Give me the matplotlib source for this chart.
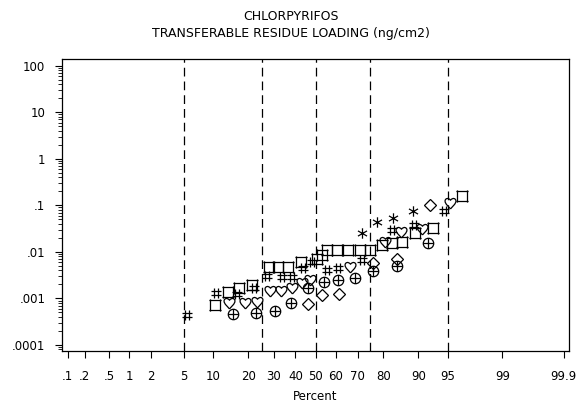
import numpy as np
import matplotlib
matplotlib.use("Agg")
from matplotlib import pyplot as plt
from matplotlib.path import Path
from statistics import NormalDist

# data: percent (plotting position) and residue (ng/cm2)
hash_pct = [5.4, 10.7, 16.3, 22.1, 27.2, 33.7, 38.4, 43.7, 48.2, 55.6, 61.0, 71.8, 82.9, 89.0, 94.5]
hash_val = [0.00044, 0.00131, 0.00125, 0.00168, 0.00303, 0.00289, 0.00289, 0.00451, 0.00607,
            0.00408, 0.00451, 0.0067, 0.0295, 0.0378, 0.0757]

sq_pct = [10.5, 13.7, 17.0, 21.4, 28.0, 31.9, 36.5, 42.7, 50.5, 53.0, 55.6, 60.5, 65.7, 70.9,
          75.1, 79.6, 82.9, 85.9, 89.2, 92.8, 96.6]
sq_val = [0.00072, 0.00138, 0.00168, 0.00195, 0.00474, 0.00474, 0.00474, 0.00607, 0.0072, 0.0085,
          0.011, 0.011, 0.011, 0.011, 0.011, 0.0141, 0.0155, 0.0163, 0.0255, 0.0326, 0.159]

heart_pct = [14.0, 18.9, 23.2, 28.4, 33.3, 38.4, 43.2, 47.2, 66.6, 80.6, 85.6, 90.7, 95.3]
heart_val = [0.0008, 0.0008, 0.00084, 0.00145, 0.00145, 0.00168, 0.00215, 0.00249, 0.00474,
             0.0163, 0.0268, 0.031, 0.112]

oplus_pct = [15.1, 22.8, 30.6, 37.9, 46.2, 54.1, 61.0, 68.8, 76.2, 84.5, 91.9]
oplus_val = [0.000464, 0.000486, 0.000537, 0.0008, 0.00168, 0.00226, 0.00249, 0.00275, 0.00389,
             0.00498, 0.0155]

diam_pct = [46.2, 53.1, 61.5, 76.2, 84.5, 92.3]
diam_val = [0.00076, 0.00119, 0.00125, 0.00578, 0.00703, 0.102]

star_pct = [71.8, 77.8, 83.3, 88.8]
star_val = [0.0255, 0.0439, 0.0535, 0.0757]

xtick_pct = [0.1, 0.2, 0.5, 1, 2, 5, 10, 20, 30, 40, 50, 60, 70, 80, 90, 95, 99, 99.9]
xtick_lab = ['.1', '.2', '.5', '1', '2', '5', '10', '20', '30', '40', '50', '60', '70', '80',
             '90', '95', '99', '99.9']
ref_pct = [5, 25, 50, 75, 95]
ytick_val = [0.0001, 0.001, 0.01, 0.1, 1, 10, 100]
ytick_lab = ['.0001', '.001', '.01', '.1', '1', '10', '100']

nd = NormalDist()
_ppf = np.vectorize(lambda v: nd.inv_cdf(v / 100.0), otypes=[float])
_cdf = np.vectorize(lambda v: nd.cdf(v) * 100.0, otypes=[float])


def fwd(p):
    p = np.clip(np.asarray(p, dtype=float), 1e-6, 100 - 1e-6)
    return _ppf(p)


def inv(z):
    return _cdf(np.asarray(z, dtype=float))


def lines_path(segs):
    verts, codes = [], []
    for a, b in segs:
        verts += [a, b]
        codes += [Path.MOVETO, Path.LINETO]
    return Path(verts, codes)


# SAS style symbols
sq_mark = lines_path([((-1.25, 1), (1.25, 1)), ((-1.25, -1), (1.25, -1)),
                      ((-1, 1.25), (-1, -1.25)), ((1, 1.25), (1, -1.25))])
hash_mark = lines_path([((-1, 0.4), (1, 0.4)), ((-1, -0.4), (1, -0.4)),
                        ((-0.4, 1), (-0.4, -1)), ((0.4, 1), (0.4, -1))])
star_mark = lines_path([((0, 1), (0, -1)), ((-0.87, 0.5), (0.87, -0.5)), ((-0.87, -0.5), (0.87, 0.5))])
C4 = Path.CURVE4
heart_mark = Path([(0, -1), (-0.3, -0.6), (-1, -0.1), (-1, 0.45),
                   (-1, 0.95), (-0.4, 1.15), (0, 0.6),
                   (0.4, 1.15), (1, 0.95), (1, 0.45),
                   (1, -0.1), (0.3, -0.6), (0, -1)],
                  [Path.MOVETO, C4, C4, C4, C4, C4, C4, C4, C4, C4, C4, C4, C4])
oplus_mark = Path.make_compound_path(Path.unit_circle(),
                                     lines_path([((-1, 0), (1, 0)), ((0, -1), (0, 1))]))

plt.rcParams['font.family'] = ['DejaVu Sans']
fig = plt.figure(figsize=(5.81, 4.08), dpi=100)
ax = fig.add_axes([0.1067, 0.1397, 0.8726, 0.7157])
ax.set_xscale('function', functions=(fwd, inv))
ax.set_yscale('log')

for p in ref_pct:
    ax.axvline(p, color='black', lw=0.9, ls=(0, (7, 4)))

kw = dict(ls='none', color='black', mfc='none', mec='black', mew=0.9)
ax.plot(sq_pct, sq_val, marker=sq_mark, ms=9, **kw)
ax.plot(hash_pct, hash_val, marker=hash_mark, ms=7, **kw)
ax.plot(heart_pct, heart_val, marker=heart_mark, ms=9, **kw)
ax.plot(oplus_pct, oplus_val, marker=oplus_mark, ms=7.5, **kw)
ax.plot(diam_pct, diam_val, marker='D', ms=6, **kw)
ax.plot(star_pct, star_val, marker=star_mark, ms=7.5, **kw)

lo = nd.cdf(-3.163) * 100
hi = nd.cdf(3.158) * 100
ax.set_xlim(lo, hi)
ax.set_ylim(10 ** -4.13, 10 ** 2.144)

ax.set_xticks(xtick_pct)
ax.set_xticklabels(xtick_lab)
ax.xaxis.set_minor_locator(matplotlib.ticker.NullLocator())
ax.set_yticks(ytick_val)
ax.set_yticklabels(ytick_lab)
ax.tick_params(axis='both', which='major', direction='out', length=5, width=0.8,
               labelsize=8.5, colors='black')
ax.tick_params(axis='y', which='minor', direction='out', length=3, width=0.6)
ax.tick_params(axis='x', pad=9)
ax.tick_params(axis='y', pad=7)
for s in ax.spines.values():
    s.set_linewidth(0.9)

ax.set_xlabel('Percent', fontsize=8.5, labelpad=5)
fig.text(0.5, 1 - 16 / 408, 'CHLORPYRIFOS', ha='center', va='center', fontsize=9)
fig.text(0.5, 1 - 33 / 408, 'TRANSFERABLE RESIDUE LOADING (ng/cm2)', ha='center', va='center', fontsize=9)

fig.savefig('out.png', dpi=100)
